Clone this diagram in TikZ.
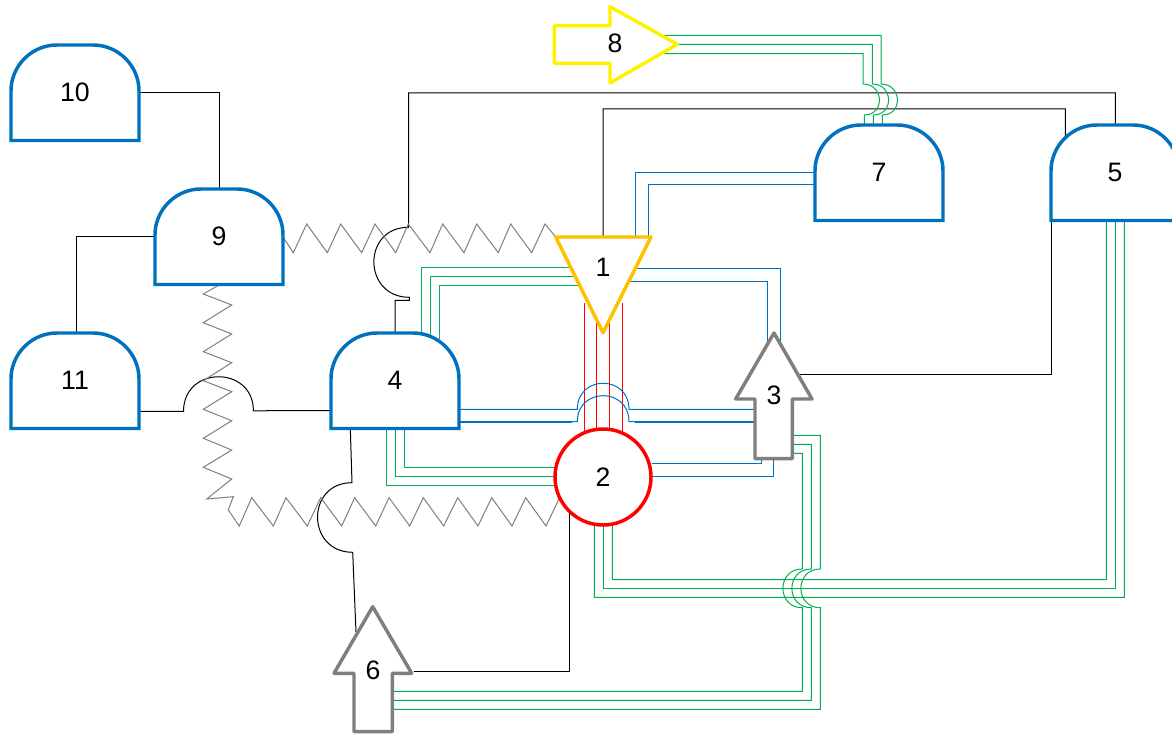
\documentclass[tikz,border=0pt]{standalone}
\usepackage{fontspec}
\setmainfont{Liberation Sans}
\usetikzlibrary{calc,backgrounds}
\definecolor{gateblue}{HTML}{0070C0}
\definecolor{wiregreen}{HTML}{00B050}
\definecolor{arrowgray}{HTML}{7F7F7F}
\definecolor{triorange}{HTML}{FFC000}
\tikzset{
  gatebody/.style={draw=gateblue,line width=2.6pt,fill=white,line join=miter},
  pointer/.style={line width=2.6pt,fill=white,line join=round},
  numeral/.style={inner sep=0pt,font=\fontsize{20}{24}\selectfont,text=black},
  blackwire/.style={draw=black,line width=.75pt,line join=miter},
  greenwire/.style={draw=wiregreen,line width=.75pt},
  bluewire/.style={draw=gateblue,line width=.75pt},
  bluethick/.style={draw=gateblue,line width=1.5pt},
  redwire/.style={draw=red,line width=.75pt},
  zigzagwire/.style={draw=arrowgray,line width=.75pt,line join=miter}
}
\newcommand{\gateat}[3]{%
  \draw[gatebody,shift={(#2,#3)}] (0,95.5) -- (0,46)
    .. controls (0,20.7) and (20.7,0) .. (46,0) -- (82,0)
    .. controls (107.3,0) and (128,20.7) .. (128,46) -- (128,95.5) -- cycle;
  \node[numeral] (n#1) at (#2+64,#3+47) {#1};
}
\begin{document}
\begin{tikzpicture}[x=.75pt,y=-.75pt]
\useasboundingbox (0,0) rectangle (1172,734);
% gates
\gateat{4}{331}{333}
\gateat{5}{1051}{125}
\gateat{7}{815}{125}
\gateat{9}{155}{189}
\gateat{10}{11}{45}
\gateat{11}{11}{333}
% triangle, circle, block arrows
\draw[pointer,draw=triorange] (555.7,237) -- (651,237) -- (603,332.7) -- cycle;
\node[numeral] (n1) at (603,267) {1};
\draw[line width=2.6pt,draw=red,fill=white] (603,477) circle[radius=48];
\node[numeral] (n2) at (603,477) {2};
\draw[pointer,draw=arrowgray] (774,333) -- (812,399) -- (792.3,399) -- (792.3,458.7) -- (755,458.7) -- (755,399) -- (735.7,399) -- cycle;
\node[numeral] (n3) at (774,395) {3};
\draw[pointer,draw=arrowgray] (372.7,606.7) -- (411.7,673.3) -- (392.3,673.3) -- (392.3,731.7) -- (354,731.7) -- (354,673.3) -- (334,673.3) -- cycle;
\node[numeral] (n6) at (373,670) {6};
\draw[pointer,draw=yellow] (677.3,44.3) -- (610,83) -- (610,63.3) -- (554.3,63.3) -- (554.3,25.7) -- (610,25.7) -- (610,6.7) -- cycle;
\node[numeral] (n8) at (615,43) {8};
\begin{scope}[on background layer]
% black connectors
\draw[blackwire] ($(n10)+(64,1)$) -| ($(n9)+(0,-47)$);
\draw[blackwire] ($(n9)+(-64,1)$) -| ($(n11)+(1,-47)$);
\draw[blackwire] ($(n11)+(64,31.5)$) -- (183.5,411.5) .. controls (183.5,365.3) and (253.4,365.3) .. (253.4,410.8) -- ($(n4)+(-64,30.5)$);
\draw[blackwire] ($(n4)+(0,-47)$) -- (395,300.3) -- (409.3,300.3) -- (409.3,297.3) .. controls (362.6,297.3) and (361.8,227.3) .. (408.5,227.3) -- (408.7,92.8) -- (1115.3,92.8) -- ($(n5)+(.3,-47)$);
\draw[blackwire] ($(n1)+(0,-30)$) -- (603,108.8) -- (1065.3,108.8) -- ($(n5)+(-49.7,-35)$);
\draw[blackwire] ($(n3)+(24.3,-20)$) -- (1051,375) -- ($(n5)+(-64,48)$);
\draw[blackwire] ($(n2)+(-34,34)$) -- (569,671.3) -- ($(n6)+(41,1.3)$);
\draw[blackwire] ($(n4)+(-44.7,48)$) -- (352,482.7) .. controls (305.6,482.7) and (306.3,552.3) .. (352.7,552.3) -- ($(n6)+(-17,-38)$);
% zigzag connectors
\draw[zigzagwire] ($(n9)+(64,1)$) -- (293.3,252.7) -- (306.7,224) -- (327.3,252.7) -- (340.7,224) -- (361.7,252.7) -- (375,224) -- (395.7,252.7) -- (408.3,224) -- (430,252.7) -- (442.7,224) -- (464,252.7) -- (476.7,224) -- (498.3,252.7) -- (510.7,224) -- (531.7,252.7) -- (545,224) -- ($(n1)+(-47.3,-30)$);
\draw[zigzagwire] ($(n9)+(0,49)$) -- (203.3,294) -- (231.7,305) -- (203.3,322.7) -- (231.7,334) -- (203.3,351.7) -- (231.7,362.7) -- (203.3,380.7) -- (231.7,391.7) -- (203.3,409.3) -- (231.7,420.7) -- (203.3,438.3) -- (231.7,450) -- (203.3,467.3) -- (231.7,479) -- (206.7,499) -- (233.3,496.7) -- (228.3,510) -- (239.3,526) -- (251.7,497.7) -- (273.3,526) -- (286,497.7) -- (307.3,526) -- (320.7,497.7) -- (341.7,526) -- (354.7,497.7) -- (375.7,526) -- (389,497.7) -- (409.7,526) -- (423.3,497.7) -- (443.7,526) -- (457.7,497.7) -- (478,526) -- (491.7,497.7) -- (512,526) -- (525.7,497.7) -- (546,526) -- (559.5,498) -- ($(n2)+(-34,34)$);
% red connectors
\draw[redwire] ($(n1)+(-19,36.3)$) -- ($(n2)+(-19,-44)$);
\draw[redwire] ($(n1)+(-6.3,52)$) -- ($(n2)+(-6.3,-47.6)$);
\draw[redwire] ($(n1)+(6.3,52)$) -- ($(n2)+(6.3,-47.6)$);
\draw[redwire] ($(n1)+(19.3,36.3)$) -- ($(n2)+(19.3,-44)$);
% blue connectors
\draw[bluewire] ($(n4)+(64,29.3)$) -- (577.3,409.3) .. controls (577.3,374.6) and (629,374.6) .. (629,409.3) -- ($(n3)+(-19,14.3)$);
\draw[bluewire] ($(n4)+(64,41.7)$) -- (577.3,421.7) .. controls (577.3,387) and (629,387) .. (629,421.7) -- ($(n3)+(-19,26.7)$);
\draw[bluethick] ($(n4)+(64,41.7)$) -- (572,421.7);
\draw[bluethick] (635,421.7) -- ($(n3)+(-19,26.7)$);
\draw[bluewire] ($(n1)+(32,1.7)$) -| ($(n3)+(6,-52)$);
\draw[bluewire] ($(n1)+(25.8,14.3)$) -| ($(n3)+(-6.7,-50.5)$);
\draw[bluewire] ($(n7)+(-64,.7)$) -| ($(n1)+(32.3,-30)$);
\draw[bluewire] ($(n7)+(-64,13)$) -| ($(n1)+(45,-30)$);
\draw[bluewire] ($(n2)+(48.7,-13)$) -| ($(n3)+(-13,64)$);
\draw[bluewire] ($(n2)+(48,-.7)$) -| ($(n3)+(-.3,64)$);
% green connectors: 4 to 1
\draw[greenwire] ($(n4)+(26.3,-46)$) |- ($(n1)+(-32.4,.3)$);
\draw[greenwire] ($(n4)+(35.3,-44)$) |- ($(n1)+(-28,9.3)$);
\draw[greenwire] ($(n4)+(44.3,-41)$) |- ($(n1)+(-23.5,18.3)$);
% green connectors: 4 to 2
\draw[greenwire] ($(n4)+(-8.7,48)$) |- ($(n2)+(-47,8.3)$);
\draw[greenwire] ($(n4)+(.3,48)$) |- ($(n2)+(-48,-.7)$);
\draw[greenwire] ($(n4)+(9,48)$) |- ($(n2)+(-47,-9.3)$);
% green connectors: 8 to 7
\draw[greenwire] ($(n8)+(48.3,-7.7)$) -- (881,35.3) -- (881,84) .. controls (902,84) and (903.3,115) .. (882.3,115) -- ($(n7)+(3.3,-47)$);
\draw[greenwire] ($(n8)+(62,1.3)$) -- (872.3,44.3) -- (872.3,84) .. controls (893.3,84) and (894.3,115) .. (873.3,115) -- ($(n7)+(-5.7,-47)$);
\draw[greenwire] ($(n8)+(48.3,10.7)$) -- (863,53.7) -- (863,84) .. controls (884,84) and (885.3,115) .. (864.3,115) -- ($(n7)+(-14.7,-46)$);
% green connectors: 5 to 2
\draw[greenwire] ($(n5)+(-8.7,48)$) -- (1106.3,579.5) -- (612.3,579.5) -- ($(n2)+(9.3,47)$);
\draw[greenwire] ($(n5)+(.3,48)$) -- (1115.3,588.3) -- (603.3,588.3) -- ($(n2)+(.3,48)$);
\draw[greenwire] ($(n5)+(9.3,48)$) -- (1124.3,597.3) -- (594.3,597.3) -- ($(n2)+(-8.7,47)$);
% green connectors: 3 to 6
\draw[greenwire] ($(n3)+(18.3,40.3)$) -- (820.3,435.3) -- (820.3,569) .. controls (794.4,569) and (794.4,607.7) .. (820.3,607.7) -- (820.3,709.3) -- ($(n6)+(19.3,39.3)$);
\draw[greenwire] ($(n3)+(18.3,49.3)$) -- (811.3,444.3) -- (811.3,569) .. controls (785.4,569) and (785.4,607.7) .. (811.3,607.7) -- (811.3,700.3) -- ($(n6)+(19.3,30.3)$);
\draw[greenwire] ($(n3)+(18.3,58.3)$) -- (802.3,453.3) -- (802.3,569) .. controls (776.4,569) and (776.4,607.7) .. (802.3,607.7) -- (802.3,691.3) -- ($(n6)+(19.3,21.3)$);
\end{scope}
\end{tikzpicture}
\end{document}
